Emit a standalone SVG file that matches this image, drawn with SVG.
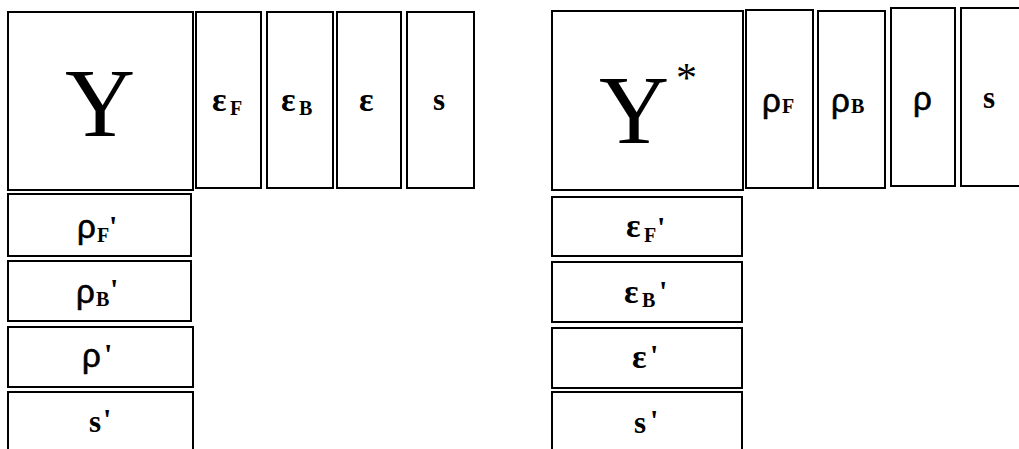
<svg xmlns="http://www.w3.org/2000/svg" width="1019" height="449" viewBox="0 0 1019 449">
<style>
rect{fill:#fff;stroke:#000;stroke-width:2}
.Y{font-family:"Liberation Serif",serif;font-size:97px;text-anchor:middle}
.ast{font-family:"Liberation Serif",serif;font-size:42px}
.e{font-family:"Liberation Serif",serif;font-weight:bold;font-size:34px}
.r{font-family:"Liberation Sans",sans-serif;font-size:33px;stroke:#000;stroke-width:0.6}
.s{font-family:"Liberation Serif",serif;font-weight:bold;font-size:31px}
.sub{font-family:"Liberation Serif",serif;font-weight:bold;font-size:20px}
.p{font-family:"Liberation Serif",serif;font-weight:bold;font-size:30px}
</style>
<rect width="1019" height="449" style="fill:#fff;stroke:none"/>
<g id="left">
<g id="Y"><rect x="8" y="12" width="185" height="178"/><text class="Y" x="100" y="136">Y</text></g>
<g id="epsF"><rect x="196" y="12" width="65" height="176"/><text x="212" y="111"><tspan class="e">ε</tspan><tspan class="sub" x="230" y="115">F</tspan></text></g>
<g id="epsB"><rect x="267" y="12" width="66" height="176"/><text x="281" y="111"><tspan class="e">ε</tspan><tspan class="sub" x="299" y="115">B</tspan></text></g>
<g id="eps"><rect x="337" y="12" width="64" height="176"/><text class="e" x="359" y="111">ε</text></g>
<g id="s"><rect x="407" y="12" width="67" height="176"/><text class="s" x="433" y="110">s</text></g>
<g id="rhoFp"><rect x="8" y="194" width="183" height="62"/><text x="77" y="238"><tspan class="r">ρ</tspan><tspan class="sub" x="97" y="242">F</tspan><tspan class="p" x="109" y="236">'</tspan></text></g>
<g id="rhoBp"><rect x="8" y="261" width="183" height="60"/><text x="76" y="303"><tspan class="r">ρ</tspan><tspan class="sub" x="96" y="306">B</tspan><tspan class="p" x="110" y="299">'</tspan></text></g>
<g id="rhop"><rect x="8" y="327" width="185" height="60"/><text x="82" y="367"><tspan class="r">ρ</tspan><tspan class="p" x="104" y="364">'</tspan></text></g>
<g id="sp"><rect x="8" y="392" width="185" height="70"/><text x="89" y="432"><tspan class="s">s</tspan><tspan class="p" x="103" y="429">'</tspan></text></g>
</g>
<g id="right">
<g id="Ystar"><rect x="552" y="11" width="191" height="179"/><text x="634" y="143"><tspan class="Y">Y</tspan><tspan class="ast" x="676" y="92">*</tspan></text></g>
<g id="rhoF"><rect x="746" y="10" width="67" height="178"/><text x="762" y="112"><tspan class="r">ρ</tspan><tspan class="sub" x="782" y="113">F</tspan></text></g>
<g id="rhoB"><rect x="818" y="11" width="67" height="177"/><text x="831" y="112"><tspan class="r">ρ</tspan><tspan class="sub" x="851" y="113">B</tspan></text></g>
<g id="rho"><rect x="891" y="8" width="64" height="178"/><text class="r" x="913" y="110">ρ</text></g>
<g id="s2"><rect x="961" y="8" width="60" height="178"/><text class="s" x="983" y="108">s</text></g>
<g id="epsFp"><rect x="552" y="197" width="190" height="59"/><text x="626" y="237"><tspan class="e">ε</tspan><tspan class="sub" x="644" y="242">F</tspan><tspan class="p" x="657" y="237">'</tspan></text></g>
<g id="epsBp"><rect x="552" y="262" width="190" height="60"/><text x="624" y="303"><tspan class="e">ε</tspan><tspan class="sub" x="642" y="307">B</tspan><tspan class="p" x="659" y="301">'</tspan></text></g>
<g id="epsp"><rect x="552" y="328" width="190" height="60"/><text x="632" y="368"><tspan class="e">ε</tspan><tspan class="p" x="650" y="365">'</tspan></text></g>
<g id="sp2"><rect x="552" y="392" width="190" height="70"/><text x="634" y="433"><tspan class="s">s</tspan><tspan class="p" x="650" y="430">'</tspan></text></g>
</g>
<g id="connectors"/>
</svg>
